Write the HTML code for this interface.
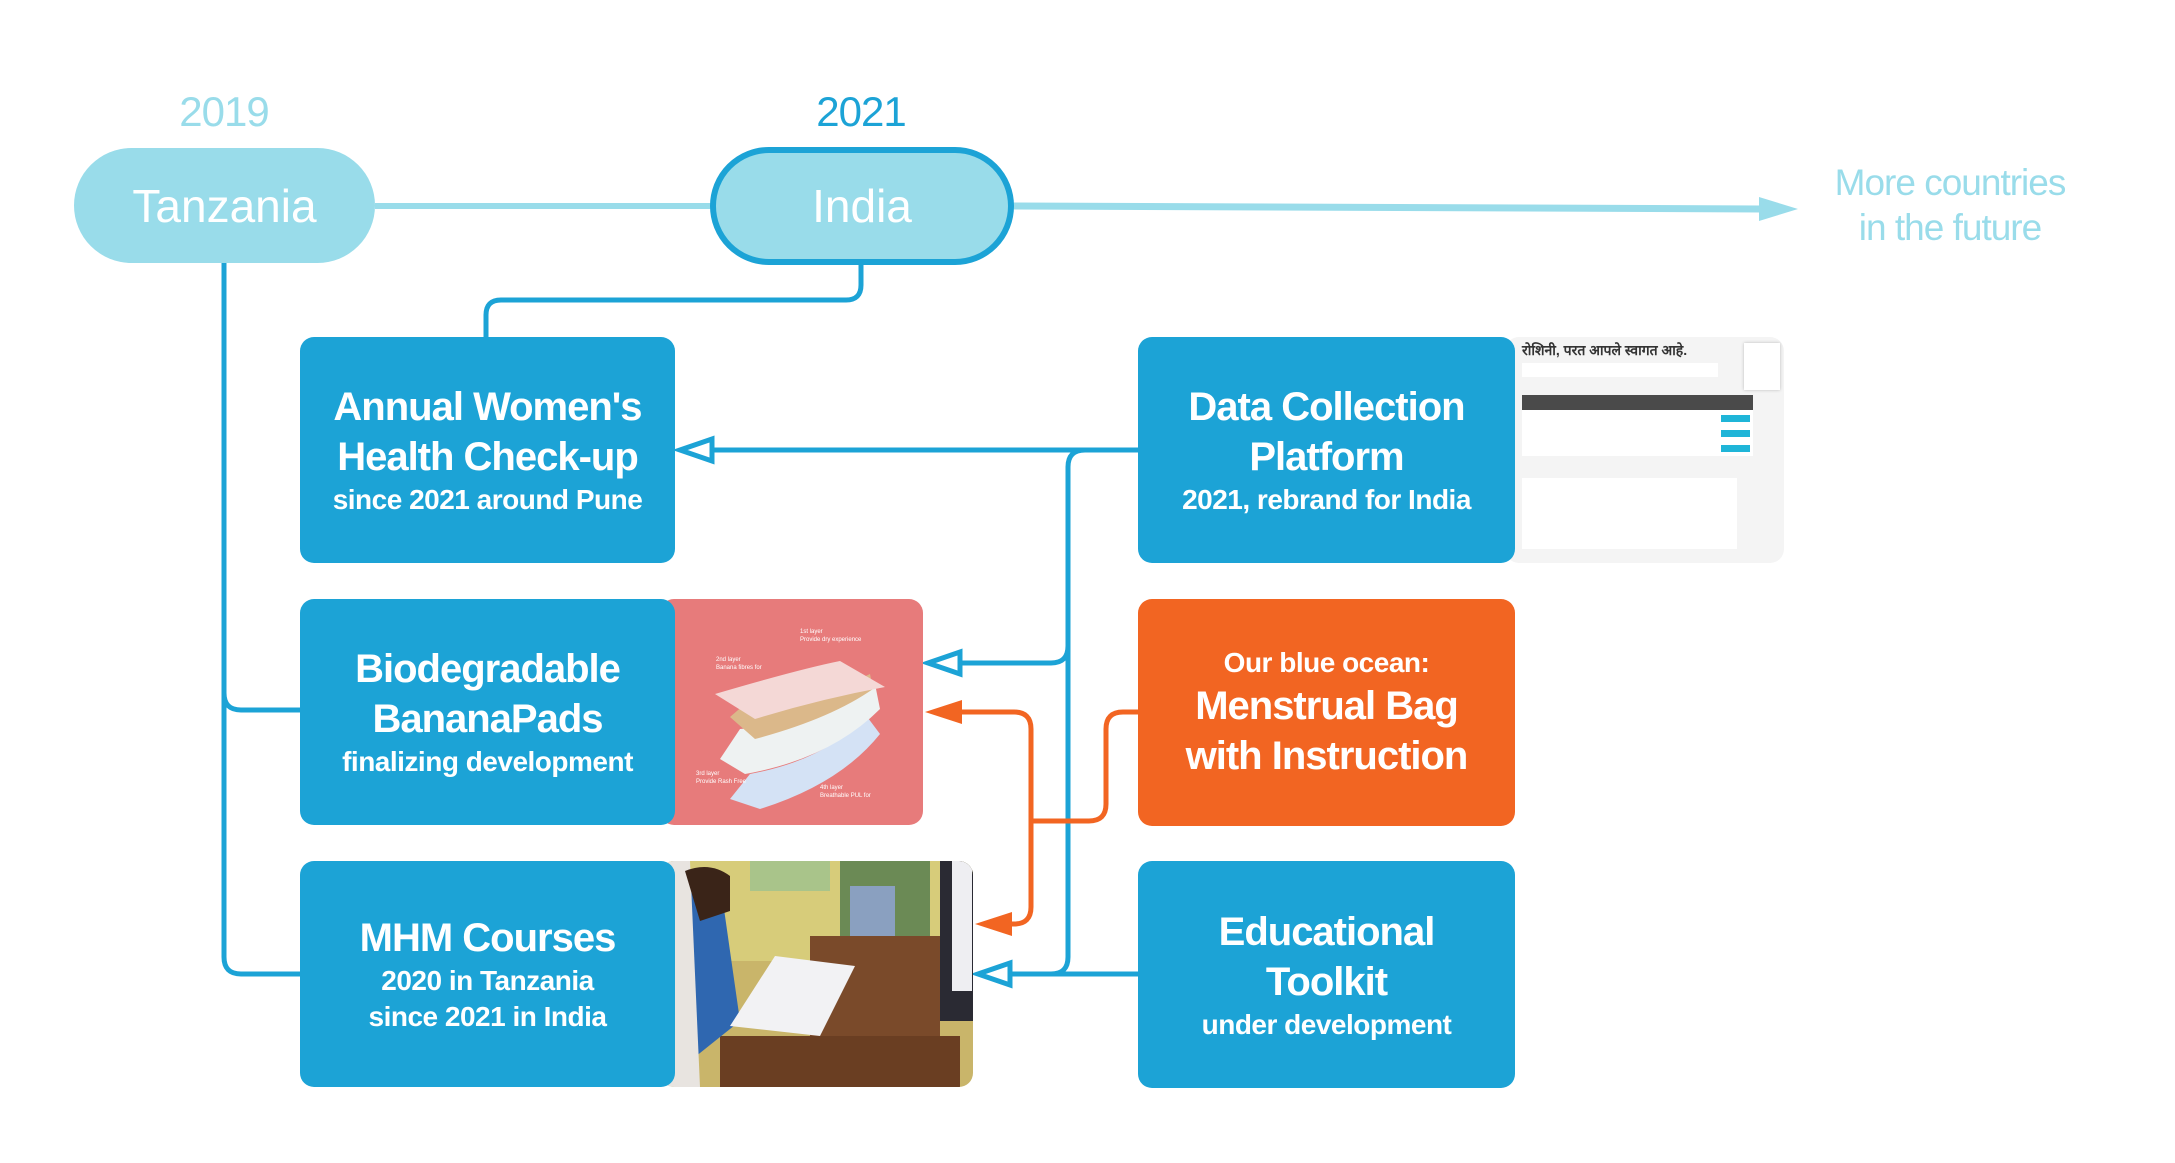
<!DOCTYPE html>
<html><head><meta charset="utf-8"><style>
html,body{margin:0;padding:0;background:#fff;}
#root{position:relative;width:2175px;height:1163px;overflow:hidden;font-family:"Liberation Sans","Noto Sans CJK SC",sans-serif;}
.box{position:absolute;background:#1ca3d6;border-radius:14px;color:#fff;display:flex;flex-direction:column;align-items:center;justify-content:center;text-align:center;font-weight:bold;letter-spacing:-1px;}
.t{font-size:40px;line-height:50px;}
.s{font-size:28px;line-height:36px;letter-spacing:-0.5px;}
.yr{position:absolute;font-size:42px;letter-spacing:-1px;text-align:center;width:200px;}
.pill{position:absolute;background:#99dcea;border-radius:80px;color:#fff;font-size:46px;display:flex;align-items:center;justify-content:center;box-sizing:border-box;}
</style></head><body>
<div id="root">
<svg width="2175" height="1163" style="position:absolute;left:0;top:0">
 <line x1="375" y1="206" x2="712" y2="206" stroke="#99dcea" stroke-width="6"/>
 <line x1="1012" y1="206" x2="1762" y2="209" stroke="#99dcea" stroke-width="7"/>
 <polygon points="1759,197 1798,209 1759,221" fill="#99dcea"/>
 <path d="M861,265 V285 Q861,300 846,300 H501 Q486,300 486,315 V337" fill="none" stroke="#1ca3d6" stroke-width="5"/>
 <path d="M224,263 V957 Q224,974 241,974 H300" fill="none" stroke="#1ca3d6" stroke-width="5"/>
 <path d="M224,693 Q224,710 241,710 H300" fill="none" stroke="#1ca3d6" stroke-width="5"/>
 <path d="M1138,450 H700" fill="none" stroke="#1ca3d6" stroke-width="5"/>
 <polygon points="680,450 712,439 712,461" fill="#fff" stroke="#1ca3d6" stroke-width="5"/>
 <path d="M1085,450 Q1068,450 1068,467 V957 Q1068,974 1051,974" fill="none" stroke="#1ca3d6" stroke-width="5"/>
 <path d="M1068,646 Q1068,663 1051,663 H960" fill="none" stroke="#1ca3d6" stroke-width="5"/>
 <polygon points="928,663 960,652 960,674" fill="#fff" stroke="#1ca3d6" stroke-width="5"/>
 <path d="M1138,974 H1008" fill="none" stroke="#1ca3d6" stroke-width="5"/>
 <polygon points="978,974 1010,963 1010,985" fill="#fff" stroke="#1ca3d6" stroke-width="5"/>
 <path d="M1138,712 H1123 Q1106,712 1106,729 V804 Q1106,821 1089,821 H1031" fill="none" stroke="#f26522" stroke-width="5"/>
 <path d="M960,712 H1014 Q1031,712 1031,729 V907 Q1031,924 1014,924 H1010" fill="none" stroke="#f26522" stroke-width="5"/>
 <polygon points="925,712 962,700 962,724" fill="#f26522"/>
 <polygon points="975,924 1012,912 1012,936" fill="#f26522"/>
</svg>

<div class="yr" style="left:124px;top:88px;color:#99dcea">2019</div>
<div class="yr" style="left:761px;top:88px;color:#1ca3d6">2021</div>
<div class="pill" style="left:74px;top:148px;width:301px;height:115px">Tanzania</div>
<div class="pill" style="left:710px;top:147px;width:304px;height:118px;border:6px solid #1ca3d6">India</div>
<div style="position:absolute;left:1820px;top:160px;width:260px;text-align:center;color:#99dcea;font-size:37px;line-height:45px;letter-spacing:-1px">More countries<br>in the future</div>

<div class="box" style="left:300px;top:337px;width:375px;height:226px">
 <div class="t">Annual Women's<br>Health Check-up</div><div class="s">since 2021 around Pune</div></div>

<div style="position:absolute;left:660px;top:599px;width:263px;height:226px;background:#e77b7b;border-radius:14px;overflow:hidden">
 <svg width="263" height="226">
  <path d="M70,200 L90,175 Q170,160 205,115 L220,135 Q180,185 100,210 Z" fill="#d4e2f5"/>
  <path d="M60,160 L80,130 Q160,125 215,85 L220,110 Q170,160 85,175 Z" fill="#eef2f2"/>
  <path d="M70,118 L85,105 Q160,100 210,75 L213,90 Q170,120 95,140 Z" fill="#dbb88a"/>
  <path d="M55,95 Q140,70 180,62 L225,88 Q160,100 95,120 Z" fill="#f4d8d6"/>
  <g fill="#fff" font-size="6"><text x="140" y="34">1st layer</text><text x="140" y="42">Provide dry experience</text><text x="56" y="62">2nd layer</text><text x="56" y="70">Banana fibres for</text><text x="36" y="176">3rd layer</text><text x="36" y="184">Provide Rash Free</text><text x="160" y="190">4th layer</text><text x="160" y="198">Breathable PUL for</text></g>
 </svg></div>
<div class="box" style="left:300px;top:599px;width:375px;height:226px">
 <div class="t">Biodegradable<br>BananaPads</div><div class="s">finalizing development</div></div>

<div style="position:absolute;left:660px;top:861px;width:313px;height:226px;background:#c9b56a;border-radius:14px;overflow:hidden">
 <svg width="313" height="226">
  <rect x="0" y="0" width="313" height="100" fill="#d7cc7a"/>
  <rect x="90" y="0" width="80" height="30" fill="#a9c48a"/>
  <rect x="180" y="0" width="90" height="80" fill="#6b8a55"/>
  <rect x="190" y="25" width="45" height="55" fill="#8aa0c0"/>
  <rect x="150" y="75" width="130" height="151" fill="#7a4a2a"/>
  <rect x="60" y="175" width="240" height="51" fill="#6a3e22"/>
  <path d="M15,20 Q40,0 60,20 L80,160 L30,200 Z" fill="#2f67b0"/>
  <path d="M0,0 H30 L40,226 H0 Z" fill="#e8e4e0"/>
  <path d="M25,10 Q50,0 70,15 L70,50 L40,60 Z" fill="#3a2418"/>
  <path d="M70,165 L115,95 L195,105 L160,175 Z" fill="#f2f2f4"/>
  <rect x="280" y="0" width="33" height="160" fill="#2a2a33"/>
  <rect x="292" y="0" width="20" height="130" fill="#eeeef2"/>
 </svg></div>
<div class="box" style="left:300px;top:861px;width:375px;height:226px">
 <div class="t">MHM Courses</div><div class="s">2020 in Tanzania<br>since 2021 in India</div></div>

<div style="position:absolute;left:1505px;top:337px;width:279px;height:226px;background:#f4f4f4;border-radius:14px;overflow:hidden">
 <div style="position:absolute;left:17px;top:4px;font-size:14px;color:#333;font-weight:bold">रोशिनी, परत आपले स्वागत आहे.</div>
 <div style="position:absolute;left:17px;top:26px;width:196px;height:14px;background:#fff"></div>
 <div style="position:absolute;left:17px;top:58px;width:231px;height:15px;background:#4a4a4a"></div>
 <div style="position:absolute;left:17px;top:73px;width:231px;height:46px;background:#fff"></div>
 <div style="position:absolute;left:216px;top:78px;width:29px;height:7px;background:#1fb5d8"></div>
 <div style="position:absolute;left:216px;top:93px;width:29px;height:7px;background:#1fb5d8"></div>
 <div style="position:absolute;left:216px;top:108px;width:29px;height:7px;background:#1fb5d8"></div>
 <div style="position:absolute;left:17px;top:141px;width:215px;height:71px;background:#fff"></div>
 <div style="position:absolute;left:239px;top:6px;width:36px;height:47px;background:#fff;box-shadow:0 0 3px #bbb"></div>
</div>
<div class="box" style="left:1138px;top:337px;width:377px;height:226px">
 <div class="t">Data Collection<br>Platform</div><div class="s">2021, rebrand for India</div></div>

<div class="box" style="left:1138px;top:599px;width:377px;height:227px;background:#f26522">
 <div class="s">Our blue ocean:</div><div class="t">Menstrual Bag<br>with Instruction</div></div>

<div class="box" style="left:1138px;top:861px;width:377px;height:227px">
 <div class="t">Educational<br>Toolkit</div><div class="s">under development</div></div>
</div>
</body></html>
